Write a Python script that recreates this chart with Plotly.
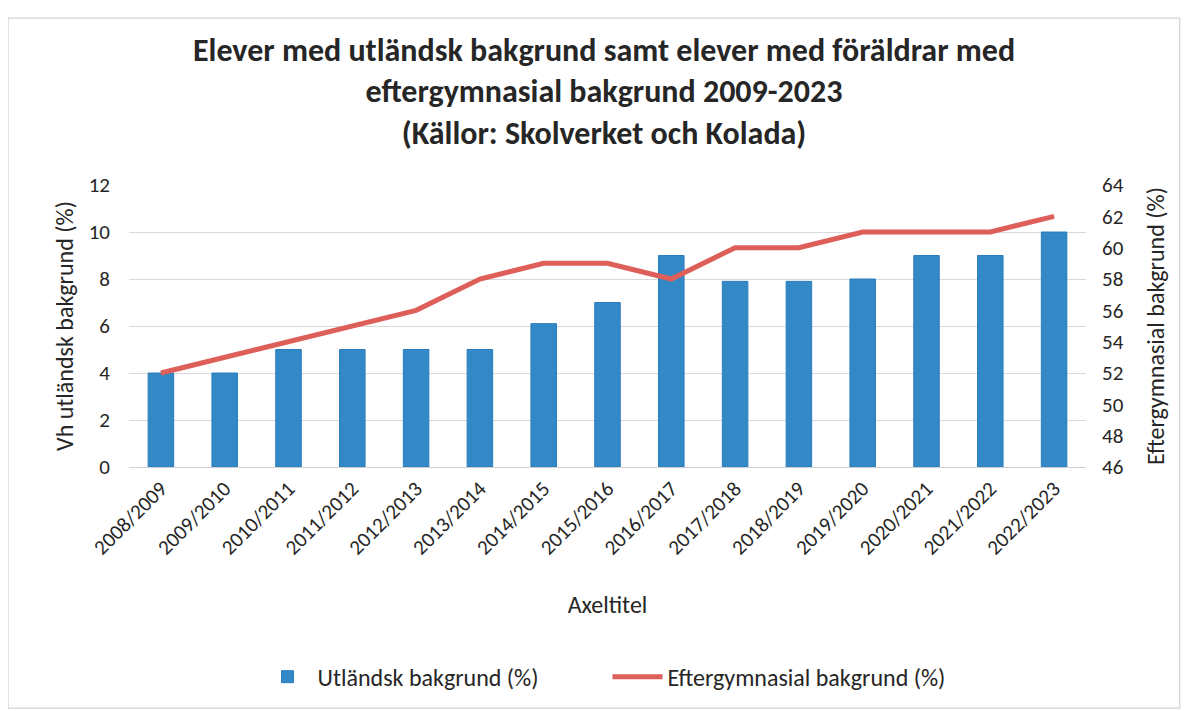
import plotly.graph_objects as go

categories = ["2008/2009", "2009/2010", "2010/2011", "2011/2012", "2012/2013",
              "2013/2014", "2014/2015", "2015/2016", "2016/2017", "2017/2018",
              "2018/2019", "2019/2020", "2020/2021", "2021/2022", "2022/2023"]
utlandsk = [4.0, 4.0, 5.0, 5.0, 5.0, 5.0, 6.1, 7.0, 9.0, 7.9, 7.9, 8.0, 9.0, 9.0, 10.0]
eftergymnasial = [52, 53, 54, 55, 56, 58, 59, 59, 58, 60, 60, 61, 61, 61, 62]

FONT = "Carlito, Calibri, Lato, 'Open Sans', sans-serif"
TXT = "#262626"

fig = go.Figure()
fig.add_trace(go.Bar(
    x=categories, y=utlandsk, name="Utländsk bakgrund (%)",
    marker=dict(color="#3388C6", line=dict(color="#2A7DBE", width=1)),
    yaxis="y",
))
fig.add_trace(go.Scatter(
    x=categories, y=eftergymnasial, name="Eftergymnasial bakgrund (%)",
    mode="lines", line=dict(color="#DE5E5A", width=5),
    yaxis="y2",
))

fig.update_layout(
    width=1192, height=711,
    margin=dict(l=121, r=114, t=177, b=252, autoexpand=False),
    paper_bgcolor="white", plot_bgcolor="white",
    font=dict(family=FONT, color=TXT, size=21),
    title=dict(
        text="<b>Elever med utländsk bakgrund samt elever med föräldrar med<br>"
             "eftergymnasial bakgrund 2009-2023<br>(Källor: Skolverket och Kolada)</b>",
        x=0.5, xanchor="center", y=0.926, yanchor="top",
        font=dict(family=FONT, size=32, color=TXT),
    ),
    bargap=0.6,
    showlegend=True,
    legend=dict(
        orientation="h", x=0.5, xanchor="center", y=-0.745, yanchor="middle",
        font=dict(family=FONT, size=24, color=TXT),
        itemwidth=50, traceorder="normal",
        entrywidth=285, entrywidthmode="pixels",
    ),
    xaxis=dict(
        automargin=False,
        tickangle=-45, tickfont=dict(size=21, color=TXT),
        showgrid=False, showline=True, linecolor="#d0d0d0", linewidth=1,
        ticks="", title=dict(text="Axeltitel", font=dict(size=24, color=TXT), standoff=36),
    ),
    yaxis=dict(
        automargin=False,
        range=[0, 12], dtick=2, tickfont=dict(size=21, color=TXT),
        ticklabelstandoff=18,
        showgrid=True, gridcolor="#d9d9d9", gridwidth=1,
        zeroline=False, showline=False, ticks="",
        title=dict(text="Vh utländsk bakgrund (%)", font=dict(size=24, color=TXT), standoff=8),
    ),
    yaxis2=dict(
        automargin=False,
        overlaying="y", side="right", range=[46, 64], dtick=2,
        tickfont=dict(size=21, color=TXT), ticklabelstandoff=15,
        showgrid=False, zeroline=False,
        showline=False, ticks="",
        title=dict(text="Eftergymnasial bakgrund (%)", font=dict(size=24, color=TXT), standoff=24),
    ),
    shapes=[dict(type="rect", xref="paper", yref="paper",
                 x0=-0.1264, x1=1.098, y0=-0.855, y1=1.592,
                 line=dict(color="#c8c8c8", width=1), fillcolor="rgba(0,0,0,0)",
                 layer="below")],
)

fig.write_html("out.html")
